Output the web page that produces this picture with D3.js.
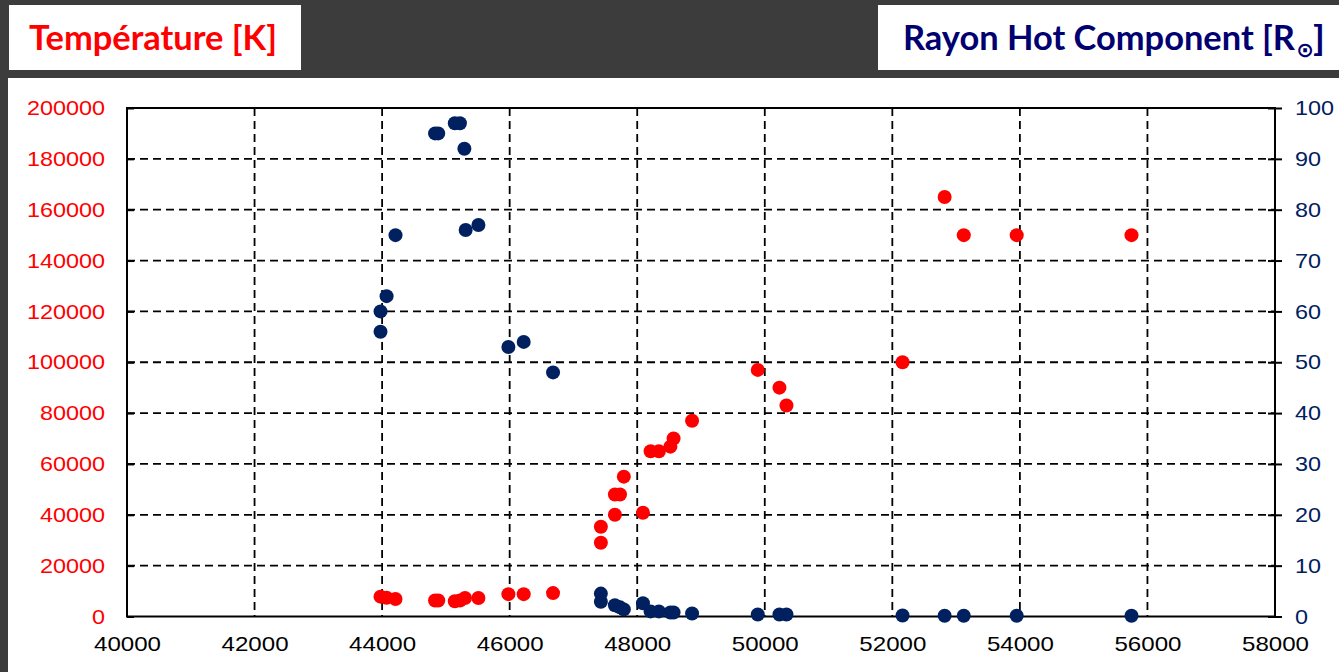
<!DOCTYPE html>
<html><head><meta charset="utf-8">
<script src="https://cdn.jsdelivr.net/npm/d3@7"></script>
<style>
body{margin:0;background:#3c3c3c;overflow:hidden;}
svg{display:block;}
</style></head>
<body><svg id="c" width="1339" height="672"></svg>
<script>
// ---- data ----
const xTicks = [40000,42000,44000,46000,48000,50000,52000,54000,56000,58000];
const tempTicks = [0,20000,40000,60000,80000,100000,120000,140000,160000,180000,200000];
const radTicks = [0,10,20,30,40,50,60,70,80,90,100];

// Temperature series (left axis)
const tempX = [43975,44070,44210,44830,44880,45140,45220,45300,45510,45980,46220,46680,
  47430,47430,47650,47650,47730,47790,48090,48210,48340,48520,48570,48860,
  49890,50230,50340,52160,52820,53120,53950,55750];
const tempY = [7800,7400,6900,6300,6300,6000,6300,7300,7300,8800,8800,9200,
  35300,29000,40000,48000,48000,55000,40800,65000,65000,66800,70000,77000,
  97000,90000,83000,100000,165000,150000,150000,150000];

// Hot component radius series (right axis)
const radX = [43975,43975,44070,44210,44830,44880,45140,45220,45290,45310,45510,45980,46220,46680,
  47430,47430,47650,47730,47790,48090,48210,48340,48520,48570,48860,
  49890,50230,50340,52160,52820,53120,53950,55750];
const radY = [60,56,63,75,95,95,97,97,92,76,77,53,54,48,
  4.5,2.9,2.2,1.8,1.4,2.6,1.0,1.0,0.8,0.8,0.6,
  0.4,0.4,0.4,0.2,0.15,0.15,0.15,0.15];

const leftTitle = "Température [K]";
const rightTitle = "Rayon Hot Component [R";

// ---- layout ----
const svg = d3.select("#c");
const RED = "#ff0000", NAVY = "#002060", TITLE_NAVY = "#000070";
const L = 127, R = 1275, T = 108, B = 616.5;

// panels
svg.append("rect").attr("x",0).attr("y",0).attr("width",1339).attr("height",672).attr("fill","#3c3c3c");
svg.append("rect").attr("x",9).attr("y",5).attr("width",292).attr("height",65).attr("fill","#fff");
svg.append("rect").attr("x",878).attr("y",5).attr("width",461).attr("height",65).attr("fill","#fff");
svg.append("rect").attr("x",8).attr("y",78).attr("width",1331).attr("height",594).attr("fill","#fff");

// titles
svg.append("text").attr("x",29).attr("y",50)
  .attr("font-family","Lato, 'Open Sans', sans-serif").attr("font-weight","bold")
  .attr("font-size",34).attr("fill",RED)
  .attr("textLength",248).attr("lengthAdjust","spacingAndGlyphs")
  .text(leftTitle);
svg.append("text").attr("x",903).attr("y",50)
  .attr("font-family","Lato, 'Open Sans', sans-serif").attr("font-weight","bold")
  .attr("font-size",34).attr("fill",TITLE_NAVY)
  .attr("textLength",392).attr("lengthAdjust","spacingAndGlyphs")
  .text(rightTitle);
svg.append("text").attr("x",1305).attr("y",57).attr("text-anchor","middle")
  .attr("font-family","'DejaVu Sans', sans-serif").attr("font-weight","bold")
  .attr("font-size",21).attr("fill",TITLE_NAVY).text("\u2299");
svg.append("text").attr("x",1313).attr("y",50)
  .attr("font-family","Lato, 'Open Sans', sans-serif").attr("font-weight","bold")
  .attr("font-size",34).attr("fill",TITLE_NAVY)
  .attr("textLength",12).attr("lengthAdjust","spacingAndGlyphs")
  .text("]");

// scales
const x = d3.scaleLinear().domain([40000,58000]).range([L,R]);
const yL = d3.scaleLinear().domain([0,200000]).range([B,T]);
const yR = d3.scaleLinear().domain([0,100]).range([B,T]);

// grid
const grid = svg.append("g").attr("stroke","#000").attr("stroke-width",1.8).attr("stroke-dasharray","8,5");
grid.selectAll("line.v").data(xTicks.slice(1,-1)).join("line")
  .attr("x1",d=>x(d)).attr("x2",d=>x(d)).attr("y1",T).attr("y2",B);
grid.selectAll("line.h").data(tempTicks.slice(1,-1)).join("line")
  .attr("x1",L).attr("x2",R).attr("y1",d=>yL(d)).attr("y2",d=>yL(d));

// axes
const fontFam = "'Liberation Sans', Arial, sans-serif";
function styleAxis(g, color, charW){
  g.select(".domain").remove();
  g.selectAll(".tick line").attr("stroke","#000").attr("stroke-width",2);
  g.selectAll(".tick text").attr("fill",color).attr("font-family",fontFam).attr("font-size",21)
    .each(function(){ const t=d3.select(this); const s=t.text(); t.attr("textLength",s.length*charW).attr("lengthAdjust","spacingAndGlyphs"); });
}
const gl = svg.append("g").attr("transform",`translate(${L},0)`)
  .call(d3.axisLeft(yL).tickValues(tempTicks).tickFormat(d3.format("d")).tickSize(-7).tickPadding(22));
styleAxis(gl, RED, 13);
const gr = svg.append("g").attr("transform",`translate(${R},0)`)
  .call(d3.axisRight(yR).tickValues(radTicks).tickFormat(d3.format("d")).tickSize(7).tickPadding(13));
styleAxis(gr, NAVY, 13);
gr.selectAll(".tick line").attr("x1",-7);
const gb = svg.append("g").attr("transform",`translate(0,${B})`)
  .call(d3.axisBottom(x).tickValues(xTicks).tickFormat(d3.format("d")).tickSize(0).tickPadding(20));
styleAxis(gb, "#000", 13.4);

// frame
svg.append("rect").attr("x",L).attr("y",T).attr("width",R-L).attr("height",B-T)
  .attr("fill","none").attr("stroke","#000").attr("stroke-width",2);

// points
const rad = 7;
svg.append("g").selectAll("circle").data(d3.range(tempX.length)).join("circle")
  .attr("cx",i=>x(tempX[i])).attr("cy",i=>yL(tempY[i])).attr("r",rad).attr("fill",RED);
svg.append("g").selectAll("circle").data(d3.range(radX.length)).join("circle")
  .attr("cx",i=>x(radX[i])).attr("cy",i=>yR(radY[i])).attr("r",rad).attr("fill",NAVY);
</script>
</body></html>
